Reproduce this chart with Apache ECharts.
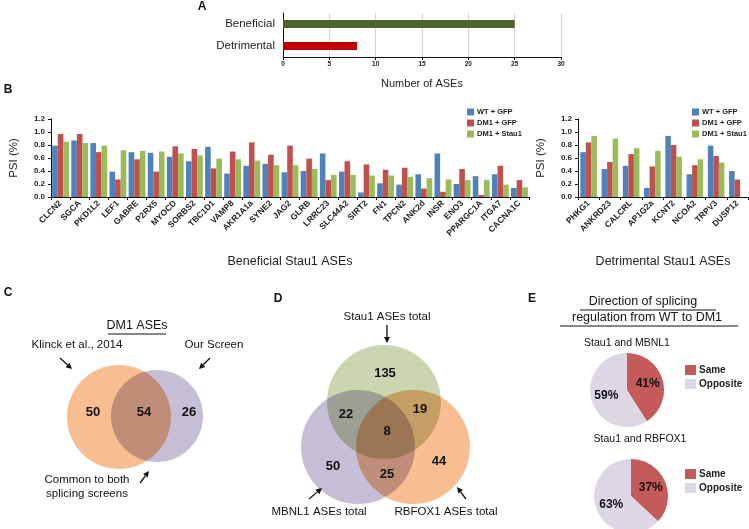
<!DOCTYPE html>
<html lang="en">
<head>
    <meta charset="UTF-8">
    <title>Stau1 ASEs</title>
    <script src="https://cdn.jsdelivr.net/npm/echarts@6/dist/echarts.min.js"></script>
    <style>
        html, body { margin: 0; padding: 0; background: #fff; }
        #main { width: 749px; height: 529px; }
    </style>
</head>
<body>
<div id="main"></div>
<script>
    // ---- data ----
    const aCategories = ['Beneficial', 'Detrimental'];
    const aCounts = [25, 8];

    const seriesNames = ['WT + GFP', 'DM1 + GFP', 'DM1 + Stau1'];

    const benGenes = ['CLCN2', 'SGCA', 'PKD1L2', 'LEF1', 'GABRE', 'P2RX5', 'MYOCD', 'SORBS2', 'TBC1D1',
        'VAMP8', 'AKR1A1a', 'SYNE2', 'JAG2', 'GLRB', 'LRRC23', 'SLC44A2', 'SIRT2', 'FN1', 'TPCN2',
        'ANK2d', 'INSR', 'ENO3', 'PPARGC1A', 'ITGA7', 'CACNA1C'];
    const benWT = [0.79, 0.87, 0.83, 0.39, 0.69, 0.68, 0.62, 0.55, 0.77, 0.36, 0.48, 0.51, 0.38, 0.40,
        0.67, 0.39, 0.07, 0.21, 0.19, 0.35, 0.67, 0.20, 0.32, 0.35, 0.14];
    const benDM1 = [0.97, 0.97, 0.69, 0.27, 0.58, 0.39, 0.78, 0.74, 0.44, 0.70, 0.84, 0.65, 0.79, 0.59,
        0.26, 0.55, 0.50, 0.42, 0.45, 0.13, 0.08, 0.43, 0.03, 0.48, 0.26];
    const benStau = [0.85, 0.83, 0.79, 0.72, 0.71, 0.70, 0.67, 0.64, 0.59, 0.58, 0.56, 0.49, 0.49, 0.43,
        0.34, 0.34, 0.33, 0.33, 0.31, 0.29, 0.27, 0.26, 0.26, 0.19, 0.15];

    const detGenes = ['PHKG1', 'ANKRD23', 'CALCRL', 'AP1G2a', 'KCNT2', 'NCOA2', 'TRPV3', 'DUSP12'];
    const detWT = [0.69, 0.43, 0.48, 0.14, 0.94, 0.35, 0.79, 0.40];
    const detDM1 = [0.84, 0.54, 0.66, 0.47, 0.80, 0.49, 0.63, 0.27];
    const detStau = [0.94, 0.90, 0.75, 0.71, 0.62, 0.58, 0.53, 0];

    // venn counts
    const vennC = [50, 54, 26];                         // Klinck only, common, our screen only
    const vennD = [135, 22, 19, 8, 50, 25, 44];         // Stau1, S+M, S+R, all, MBNL1, M+R, RBFOX1

    const pieNames = ['Same', 'Opposite'];
    const pieMBNL1 = [41, 59];
    const pieRBFOX1 = [37, 63];

    // ---- helpers ----
    const FONT = 'Liberation Sans, Arial, sans-serif';
    const barColors = ['#4f81bd', '#c0504d', '#9bbb59'];

    function txt(x, y, s, size, weight, align) {
        return {
            type: 'text', x: x, y: y, z: 20,
            style: {
                text: s, fontSize: size, fontWeight: weight || 'normal', fontFamily: FONT,
                fill: '#111', textAlign: align || 'center', textVerticalAlign: 'middle',
                align: align || 'center', verticalAlign: 'middle'
            }
        };
    }
    function line(x1, y1, x2, y2, w) {
        return { type: 'line', z: 20, shape: { x1: x1, y1: y1, x2: x2, y2: y2 }, style: { stroke: '#111', lineWidth: w || 1 } };
    }
    function arrow(x1, y1, x2, y2) {
        const a = Math.atan2(y2 - y1, x2 - x1), L = 6, W = 3;
        const bx = x2 - L * Math.cos(a), by = y2 - L * Math.sin(a);
        return [
            line(x1, y1, bx, by, 1.3),
            {
                type: 'polygon', z: 20,
                shape: { points: [[x2, y2], [bx + W * Math.sin(a), by - W * Math.cos(a)], [bx - W * Math.sin(a), by + W * Math.cos(a)]] },
                style: { fill: '#111' }
            }
        ];
    }
    function circle(cx, cy, r, color) {
        return { type: 'circle', z: 5, shape: { cx: cx, cy: cy, r: r }, style: { fill: color, blend: 'multiply' } };
    }

    const ORANGE = '#f8bd90', PURPLE = '#c6bed6', GREEN = '#cbd6b0';

    const graphics = [].concat(
        [
            txt(202, 7, 'A', 12, 'bold'),
            txt(8, 90, 'B', 12, 'bold'),
            txt(8, 293, 'C', 12, 'bold'),
            txt(278, 299, 'D', 12, 'bold'),
            txt(532, 299, 'E', 12, 'bold'),

            // panel C
            txt(137, 326, 'DM1 ASEs', 12.5),
            line(108, 334, 166, 334, 1),
            txt(77, 345, 'Klinck et al., 2014', 11.5),
            txt(214, 345, 'Our Screen', 11.5),
            circle(119, 417, 52, ORANGE),
            circle(157, 416, 46, PURPLE),
            txt(93, 412, String(vennC[0]), 13, 'bold'),
            txt(144, 412, String(vennC[1]), 13, 'bold'),
            txt(189, 412, String(vennC[2]), 13, 'bold'),
            txt(87, 480, 'Common to both', 11.5),
            txt(87, 494, 'splicing screens', 11.5),

            // panel D
            txt(387, 317, 'Stau1 ASEs total', 11.5),
            circle(384, 402, 57, GREEN),
            circle(358, 447, 57, PURPLE),
            circle(413, 447, 57, ORANGE),
            txt(385, 373, String(vennD[0]), 13, 'bold'),
            txt(346, 414, String(vennD[1]), 13, 'bold'),
            txt(420, 409, String(vennD[2]), 13, 'bold'),
            txt(387, 431, String(vennD[3]), 13, 'bold'),
            txt(333, 466, String(vennD[4]), 13, 'bold'),
            txt(387, 474, String(vennD[5]), 13, 'bold'),
            txt(439, 461, String(vennD[6]), 13, 'bold'),
            txt(319, 512, 'MBNL1 ASEs total', 11.5),
            txt(446, 512, 'RBFOX1 ASEs total', 11.5),

            // panel E
            txt(643, 302, 'Direction of splicing', 12.5),
            line(580, 310, 716, 310, 1),
            txt(647, 318, 'regulation from WT to DM1', 12.5),
            line(560, 326, 738, 326, 1),
            txt(627, 343, 'Stau1 and MBNL1', 10.5),
            txt(640, 439, 'Stau1 and RBFOX1', 10.5)
        ],
        arrow(60, 358, 72, 369),
        arrow(210, 358, 199, 369),
        arrow(140, 483, 149, 471),
        arrow(387, 325, 387, 343),
        arrow(309, 499, 322, 488),
        arrow(466, 499, 457, 487)
    );

    const catAxisStyle = {
        axisLine: { lineStyle: { color: '#111', width: 1 } },
        axisTick: { show: true, length: 3, lineStyle: { color: '#111' } },
        splitLine: { show: false }
    };

    const psiAxis = idx => ({
        gridIndex: idx, type: 'value', min: 0, max: 1.2, interval: 0.2,
        name: 'PSI (%)', nameLocation: 'middle', nameGap: 31, nameRotate: 90,
        nameTextStyle: { fontSize: 11.5, color: '#222' },
        axisLine: { show: true, lineStyle: { color: '#111' } },
        axisTick: { show: true, length: 3, lineStyle: { color: '#111' } },
        axisLabel: { fontSize: 8, fontWeight: 'bold', color: '#222', margin: 6, formatter: v => v.toFixed(1) },
        splitLine: { show: false }
    });

    const barLegend = left => ({
        data: seriesNames, orient: 'vertical', left: left, top: 103, itemGap: 3,
        itemWidth: 7, itemHeight: 7, icon: 'rect',
        textStyle: { fontSize: 7.5, fontWeight: 'bold', color: '#222', padding: [0, 0, 0, -2] }
    });
    const pieLegend = top => ({
        data: pieNames, orient: 'vertical', left: 680, top: top, itemGap: 4,
        itemWidth: 11, itemHeight: 10, icon: 'rect',
        textStyle: { fontSize: 10, fontWeight: 'bold', color: '#222', padding: [0, 0, 0, -2] }
    });

    const myChart = echarts.init(document.getElementById('main'));
    const option = {
        animation: false,
        textStyle: { fontFamily: FONT },
        grid: [
            { left: 283, top: 13, width: 278, height: 44 },
            { left: 44, top: 119, width: 485, height: 78 },
            { left: 578, top: 119, width: 170, height: 78 }
        ],
        xAxis: [
            {
                gridIndex: 0, type: 'value', min: 0, max: 30, interval: 5,
                name: 'Number of ASEs', nameLocation: 'middle', nameGap: 21,
                nameTextStyle: { fontSize: 11, color: '#222' },
                axisLine: { show: true, lineStyle: { color: '#111' } },
                axisTick: { show: true, length: 3, lineStyle: { color: '#111' } },
                axisLabel: { fontSize: 6.5, fontWeight: 'bold', color: '#222', margin: 4 },
                splitLine: { show: true, lineStyle: { color: '#d4d4d4' } }
            },
            Object.assign({
                gridIndex: 1, type: 'category', data: benGenes,
                name: 'Beneficial Stau1 ASEs', nameLocation: 'middle', nameGap: 58,
                nameTextStyle: { fontSize: 12.5, color: '#222' },
                axisLabel: { rotate: 45, fontSize: 8.5, fontWeight: 'bold', color: '#222', margin: 5, interval: 0 }
            }, catAxisStyle),
            Object.assign({
                gridIndex: 2, type: 'category', data: detGenes,
                name: 'Detrimental Stau1 ASEs', nameLocation: 'middle', nameGap: 58,
                nameTextStyle: { fontSize: 12.5, color: '#222' },
                axisLabel: { rotate: 45, fontSize: 8.5, fontWeight: 'bold', color: '#222', margin: 5, interval: 0 }
            }, catAxisStyle)
        ],
        yAxis: [
            {
                gridIndex: 0, type: 'category', data: aCategories, inverse: true,
                axisLine: { show: true, lineStyle: { color: '#111' } },
                axisTick: { show: false },
                axisLabel: { fontSize: 11.5, color: '#222', margin: 8 }
            },
            psiAxis(1),
            psiAxis(2)
        ],
        legend: [barLegend(462), barLegend(687), pieLegend(360), pieLegend(464)],
        series: [
            {
                type: 'bar', xAxisIndex: 0, yAxisIndex: 0, barWidth: 8,
                data: aCounts.map((v, i) => ({
                    value: v,
                    itemStyle: { color: i === 0 ? '#4f6228' : '#c00000' }
                }))
            },
            ...[benWT, benDM1, benStau].map((d, i) => ({
                type: 'bar', name: seriesNames[i], xAxisIndex: 1, yAxisIndex: 1,
                data: d, barGap: '0%', barCategoryGap: '12%',
                itemStyle: { color: barColors[i] }
            })),
            ...[detWT, detDM1, detStau].map((d, i) => ({
                type: 'bar', name: seriesNames[i], xAxisIndex: 2, yAxisIndex: 2,
                data: d, barGap: '0%', barCategoryGap: '22%',
                itemStyle: { color: barColors[i] }
            })),
            ...[[pieMBNL1, [627, 390]], [pieRBFOX1, [631, 496]]].map(([vals, c]) => ({
                type: 'pie', center: c, radius: 37, startAngle: 90, clockwise: true,
                data: vals.map((v, i) => ({ name: pieNames[i], value: v })),
                color: ['#c45a59', '#dcd6e5'],
                label: { show: true, position: 'inside', formatter: '{d}%', fontSize: 12, fontWeight: 'bold', color: '#111' },
                labelLine: { show: false },
                itemStyle: { borderWidth: 0 },
                emphasis: { disabled: true }
            }))
        ],
        graphic: graphics
    };
    myChart.setOption(option);
</script>
</body>
</html>
